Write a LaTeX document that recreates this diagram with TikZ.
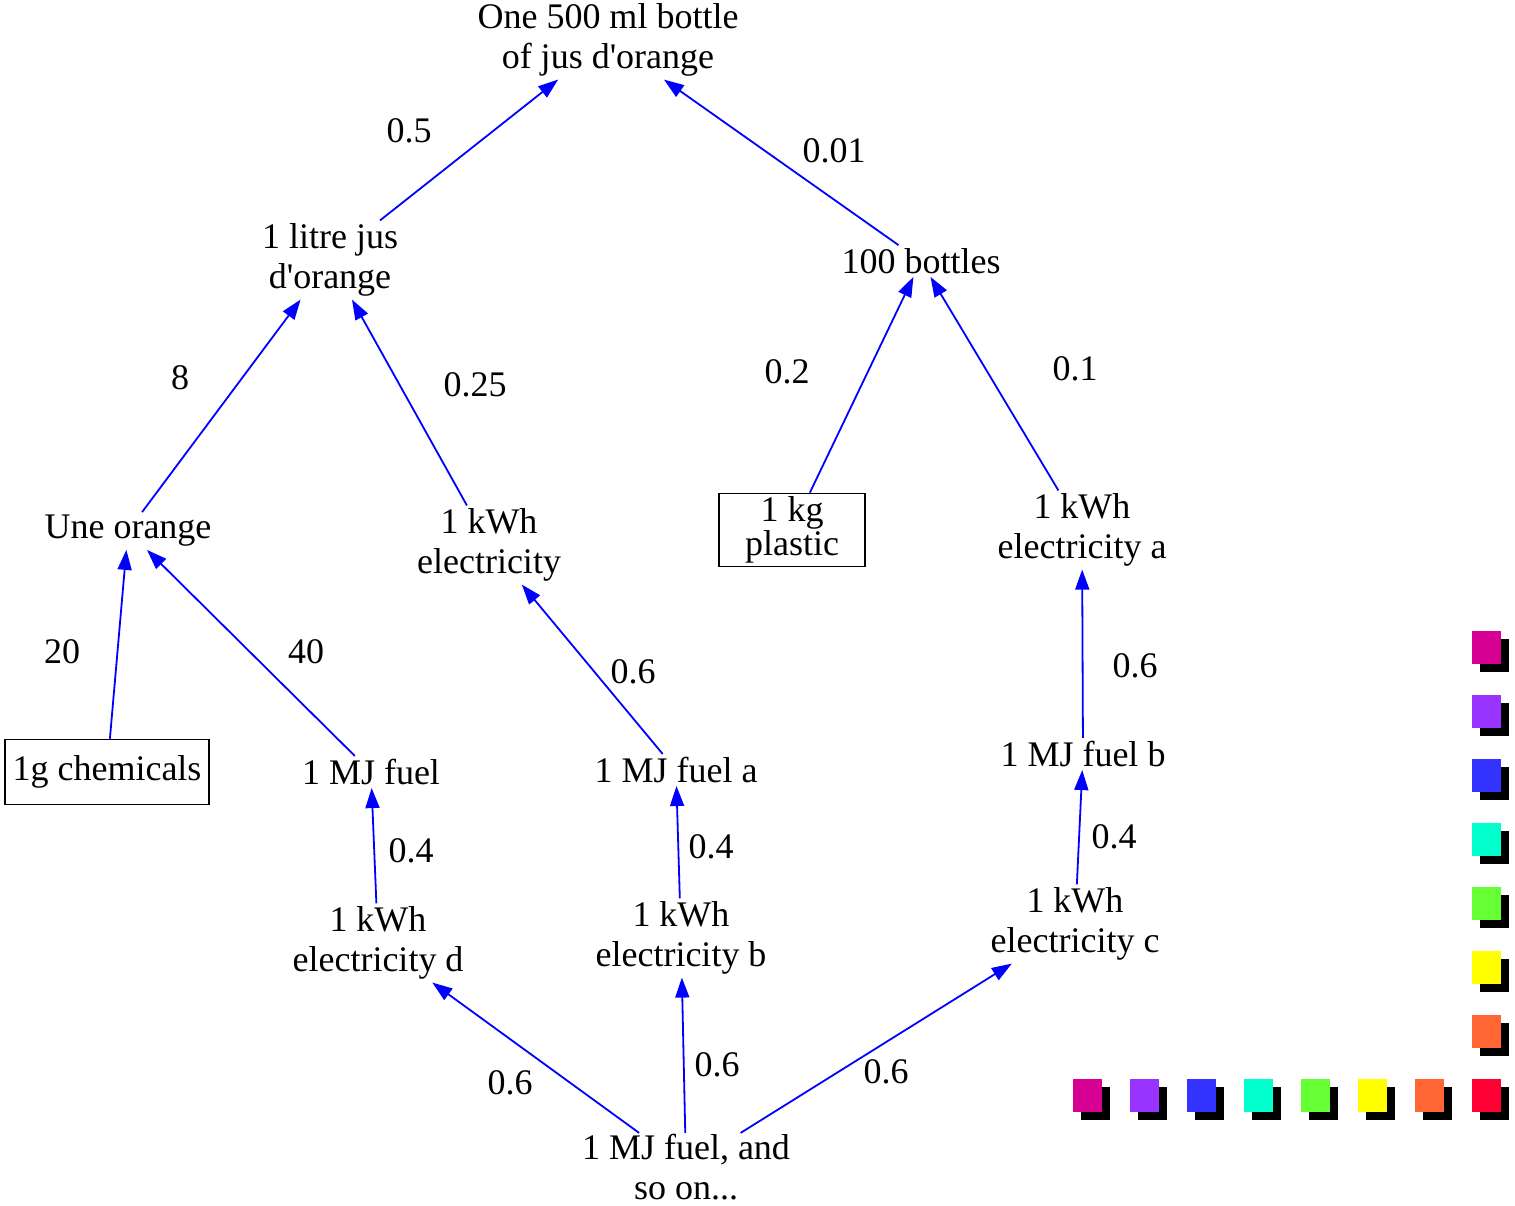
\documentclass[tikz,border=0pt]{standalone}
\usepackage{fontspec}
\setmainfont{Liberation Serif}[Ligatures=TeXOff]
\usetikzlibrary{arrows.meta}
\definecolor{cmag}{HTML}{D60093}
\definecolor{cpur}{HTML}{9933FF}
\definecolor{cblu}{HTML}{3333FF}
\definecolor{ccya}{HTML}{00FFCC}
\definecolor{cgre}{HTML}{66FF33}
\definecolor{cyel}{HTML}{FFFF00}
\definecolor{cora}{HTML}{FF6633}
\definecolor{cred}{HTML}{FF0033}
\tikzset{
  txt/.style={inner sep=3pt, align=center, font=\fontsize{36}{40}\selectfont},
  boxnode/.style={draw, line width=1.5pt, inner sep=0pt, align=center, font=\fontsize{36}{34}\selectfont},
  lbl/.style={inner sep=0pt, font=\fontsize{36}{40}\selectfont},
  edge/.style={draw=blue, line width=1.8pt, -{Triangle[length=20pt,width=14pt]}},
}
\begin{document}
\begin{tikzpicture}[x=1pt,y=-1pt]
\useasboundingbox (0,0) rectangle (1515,1205);
% nodes
\node[txt] (top) at (608,40) {One 500 ml bottle\\of jus d'orange};
\node[txt] (litre) at (330,260) {1 litre jus\\d'orange};
\node[txt] (bottles) at (921,261) {100 bottles};
\node[txt] (orange) at (128,531) {Une orange};
\node[txt] (elec) at (489,545) {1 kWh\\electricity};
\node[boxnode, minimum width=146pt, minimum height=73pt] (plastic) at (792,530) {1 kg\\plastic};
\node[txt] (eleca) at (1082,530) {1 kWh\\electricity a};
\node[boxnode, minimum width=204pt, minimum height=65pt] (chem) at (107,772) {1g chemicals};
\node[txt] (fuel) at (371,772) {1 MJ fuel};
\node[txt] (fuela) at (676,770) {1 MJ fuel a};
\node[txt] (fuelb) at (1083,754) {1 MJ fuel b};
\node[txt] (elecd) at (378,943) {1 kWh\\electricity d};
\node[txt] (elecb) at (681,938) {1 kWh\\electricity b};
\node[txt] (elecc) at (1075,924) {1 kWh\\electricity c};
\node[txt, inner sep=1pt] (final) at (686,1167) {1 MJ fuel, and\\so on...};
% edges
\draw[edge] (litre) -- (top);
\draw[edge] (bottles) -- (top);
\draw[edge] (orange) -- (litre);
\draw[edge] (elec) -- (litre);
\draw[edge] (plastic) -- (bottles);
\draw[edge] (eleca) -- (bottles);
\draw[edge] (chem) -- (orange);
\draw[edge] (fuel) -- (orange);
\draw[edge] (fuela) -- (elec);
\draw[edge] (fuelb) -- (eleca);
\draw[edge] (elecd) -- (fuel);
\draw[edge] (elecb) -- (fuela);
\draw[edge] (elecc) -- (fuelb);
\draw[edge] (final) -- (elecd);
\draw[edge] (final) -- (elecb);
\draw[edge] (final) -- (elecc);
% labels
\node[lbl] (l1) at (409,131) {0.5};
\node[lbl] (l2) at (834,151) {0.01};
\node[lbl] (l3) at (180,378) {8};
\node[lbl] (l4) at (475,385) {0.25};
\node[lbl] (l5) at (787,372) {0.2};
\node[lbl] (l6) at (1075,369) {0.1};
\node[lbl] (l7) at (62,652) {20};
\node[lbl] (l8) at (306,652) {40};
\node[lbl] (l9) at (633,672) {0.6};
\node[lbl] (l10) at (1135,666) {0.6};
\node[lbl] (l11) at (411,851) {0.4};
\node[lbl] (l12) at (711,847) {0.4};
\node[lbl] (l13) at (1114,837) {0.4};
\node[lbl] (l14) at (510,1083) {0.6};
\node[lbl] (l15) at (717,1065) {0.6};
\node[lbl] (l16) at (886,1072) {0.6};
% colour squares: right column
\foreach \c [count=\i from 0] in {cmag,cpur,cblu,ccya,cgre,cyel,cora} {
  \fill[black] (1480,639+64*\i) rectangle ++(29,33);
  \fill[\c] (1472,631+64*\i) rectangle ++(29,33);
}
% bottom row
\foreach \c [count=\i from 0] in {cmag,cpur,cblu,ccya,cgre,cyel,cora,cred} {
  \fill[black] (1081+57*\i,1087) rectangle ++(29,33);
  \fill[\c] (1073+57*\i,1079) rectangle ++(29,33);
}
\end{tikzpicture}
\end{document}
